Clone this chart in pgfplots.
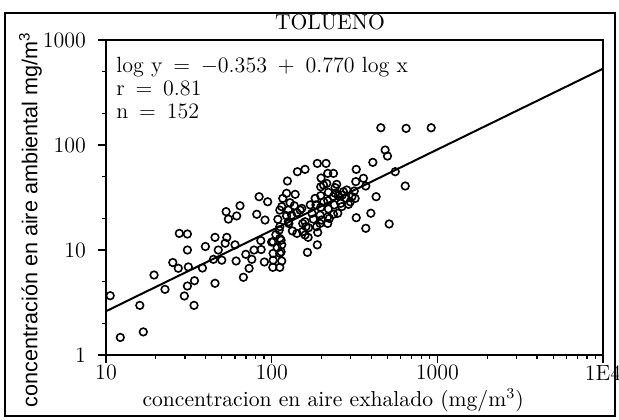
\documentclass[border=0pt]{standalone}
\usepackage{fontspec}
\newfontfamily\lsans{Liberation Sans}
\usepackage{pgfplots}
\usepackage{pgfplotstable}
\pgfplotsset{compat=1.18}
\pgfplotstableread{
x y
10.6 3.67
12.2 1.47
16.8 1.66
16.0 2.97
19.5 5.78
22.7 4.22
25.3 7.6
27.3 6.7
27.7 14.4
31.0 14.2
31.0 10.0
31.4 6.9
31.0 4.54
34.2 5.1
29.7 3.65
34.0 2.97
38.2 6.74
39.8 10.8
45.5 13.2
45.5 4.82
44.5 8.15
47.6 10.0
50.0 8.0
52.4 11.6
53.6 13.2
53.1 23.2
54.8 19.7
61.5 21.1
64.4 26.4
60.1 11.2
61.0 7.86
67.5 5.5
69.8 9.1
73.1 6.69
75.9 8.15
78.3 10.0
86.4 10.1
86.0 12.3
81.3 21.9
84.0 32.2
94.6 28.8
91.2 19.3
90.3 7.69
100 11.9
102 9.29
102 8.0
101.6 6.84
112 6.84
115 7.86
112 9.3
115 11.2
112 12.9
111 15.5
109 19.6
115 25.9
116.7 31.0
123 34.7
124.5 45.4
129 28.2
123 21.2
127 17.9
138.6 33.9
137 26.4
133.4 15.2
141.9 22.7
152 24.9
143 55.7
159 58.6
154 17.9
154 15.0
166 13.2
164.4 9.5
178.6 19.7
185 26.9
188.6 66.8
188.6 11.2
189.7 14.7
196 17.9
196 21.5
197.7 25.5
197.7 32.9
197.7 40.0
198.7 48.5
213 66.8
218 53.7
215 43.1
220 35.4
218 29.5
220 24.6
218 20.7
218 17.9
236 53.7
236 21.9
239 26.9
236 32.2
241.5 39.3
247 42.2
250.6 22.4
253 32.9
261 27.8
267 33.4
284 37.3
282 31.0
291 27.2
305 32.2
315 36.5
322 44.8
324 58.6
319 31.0
324 20.3
358 48.2
370 40.7
370 16.1
397 22.4
408 68.4
427 32.2
484 89.6
500 78.5
456 146
512 17.7
557 55.7
640 40.7
648 144
918 146
112 24
126 24
148.6 24
132 21.5
126 18.6
112 16.7
114 12.4
102 12.0
114 9.6
161 16.7
159 13.9
205.6 41.6
241.5 34.7
271 35.9
206 28.8
298 28.8
171 26.9
265 25.9
175 22.4
159 18.6
200 19.3
167 16.3
187 16.7
142 14.4
183 31.0
223 20.0
108 10.5
106 14.0
}\pointsdata
\pgfplotstableread{
x y
10 2.612
10000 533.3
}\fitdata
\begin{document}
\begin{tikzpicture}
\path[use as bounding box] (-53pt,-32pt) rectangle (256.5pt,177.5pt);
\draw[line width=0.8pt] (-50.5pt,-30.5pt) rectangle (254.5pt,171pt);
\begin{axis}[
  at={(0,0)}, anchor=south west,
  scale only axis, width=248.5pt, height=157.5pt,
  xmode=log, ymode=log,
  xmin=10, xmax=10000, ymin=1, ymax=1000,
  xtick={10,100,1000,10000}, xticklabels={10,100,1000,1E4},
  ytick={1,10,100,1000}, yticklabels={1,10,100,1000},
  minor ytick={2,5,20,50,200,500},
  minor xtick={},
  xtick pos=bottom, ytick pos=left,
  tick align=outside, major tick length=4pt, minor tick length=2pt,
  axis line style={line width=0.6pt},
  tick style={line width=0.6pt, black},
  tick label style={font=\fontsize{11}{12}\selectfont},
  yticklabel style={xshift=-2.5pt},
  xticklabel style={yshift=2.5pt},
  clip=false,
  xlabel={concentracion en aire exhalado (mg/m\textsuperscript{3})},
  xlabel style={at={(rel axis cs:0.457,-0.143)}, anchor=center, font=\fontsize{10.8}{12}\selectfont},
  ylabel={concentración en aire ambiental mg/m\textsuperscript{3}},
  ylabel style={at={(rel axis cs:-0.152,0.43)}, anchor=center, rotate=0, font=\lsans\fontsize{10.8}{12}\selectfont},
]
\addplot[black, line width=1pt, no marks] table[x=x,y=y] {\fitdata};
\addplot[only marks, mark=o, mark size=1.9pt, mark options={fill=white, line width=0.8pt, black}] table[x=x,y=y] {\pointsdata};
\node[anchor=base, font=\fontsize{10.8}{12}\selectfont] at (rel axis cs:0.4507,1.0333) {TOLUENO};
\node[anchor=north west, align=left, inner sep=0pt, font=\fontsize{11}{11.5}\selectfont] at ([xshift=5pt,yshift=-8.5pt]rel axis cs:0,1) {log y\ \,=\ \,$-$0.353\ \,+\ \,0.770 log x\\r\ \,=\ \,0.81\\n\ \,=\ \,152};
\end{axis}
\end{tikzpicture}
\end{document}
